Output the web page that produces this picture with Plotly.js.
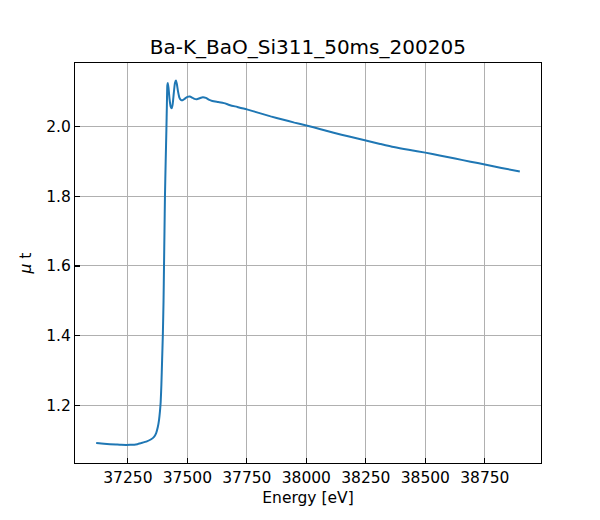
<!DOCTYPE html>
<html>
<head>
<meta charset="utf-8">
<script src="https://cdn.plot.ly/plotly-3.0.1.min.js"></script>
<style>
  body { margin: 0; background: #fff; }
  #chart { width: 600px; height: 520px; }
</style>
</head>
<body>
<div id="chart"></div>
<script>
// Ba K-edge scan
var energy = [37117, 37150, 37200, 37222, 37260, 37290, 37306, 37330, 37348, 37360,
  37369, 37376, 37381, 37385, 37388, 37391, 37394, 37397, 37400, 37402,
  37404, 37406, 37409, 37412, 37414, 37416, 37418, 37421, 37425, 37430,
  37434, 37438, 37443, 37448, 37452, 37456, 37461, 37467, 37473, 37480,
  37490, 37500, 37510, 37520, 37530, 37540, 37552, 37565, 37578, 37590,
  37605, 37630, 37654, 37680, 37710, 37750, 37800, 37850, 37900, 37950,
  38000, 38060, 38115, 38180, 38250, 38310, 38367, 38430, 38500, 38560,
  38625, 38690, 38750, 38820, 38897];
var mu = [1.092, 1.090, 1.088, 1.087, 1.087, 1.089, 1.092, 1.097, 1.103, 1.110,
  1.121, 1.138, 1.158, 1.184, 1.210, 1.260, 1.330, 1.400, 1.500, 1.600,
  1.700, 1.800, 1.900, 1.990, 2.060, 2.118, 2.125, 2.110, 2.080, 2.057,
  2.052, 2.062, 2.095, 2.125, 2.132, 2.122, 2.100, 2.082, 2.076, 2.075,
  2.080, 2.085, 2.086, 2.083, 2.079, 2.078, 2.081, 2.084, 2.082, 2.077,
  2.073, 2.070, 2.067, 2.061, 2.056, 2.049, 2.039, 2.029, 2.020, 2.011,
  2.003, 1.992, 1.982, 1.971, 1.960, 1.950, 1.941, 1.933, 1.925, 1.917,
  1.908, 1.899, 1.891, 1.881, 1.871];

var xTicks = [37250, 37500, 37750, 38000, 38250, 38500, 38750];
var yTicks = [1.2, 1.4, 1.6, 1.8, 2.0];

var font = 'DejaVu Sans, sans-serif';

var trace = {
  x: energy,
  y: mu,
  type: 'scatter',
  mode: 'lines',
  line: {color: '#1f77b4', width: 2, shape: 'spline', smoothing: 0.5},
  hoverinfo: 'skip'
};

var axisCommon = {
  showline: true,
  linecolor: '#000',
  linewidth: 1.1,
  mirror: true,
  ticks: 'inside',
  ticklen: 5,
  tickwidth: 1.1,
  tickcolor: '#000',
  showgrid: true,
  gridcolor: '#b0b0b0',
  gridwidth: 1,
  zeroline: false,
  tickfont: {family: font, size: 15.5, color: '#000'}
};

var layout = {
  width: 600,
  height: 520,
  margin: {l: 75, r: 59, t: 63, b: 57},
  paper_bgcolor: '#fff',
  plot_bgcolor: '#fff',
  showlegend: false,
  font: {family: font, color: '#000'},
  title: {
    text: 'Ba-K_BaO_Si311_50ms_200205',
    font: {family: font, size: 20, color: '#000'},
    x: 0.513,
    xanchor: 'center',
    yref: 'container',
    y: 1 - 47 / 520,
    yanchor: 'middle'
  },
  xaxis: Object.assign({}, axisCommon, {
    range: [37028, 38986],
    tickvals: xTicks,
    ticktext: xTicks.map(String),
    title: {text: 'Energy [eV]', font: {family: font, size: 15.5}, standoff: 6}
  }),
  yaxis: Object.assign({}, axisCommon, {
    range: [1.035, 2.182],
    tickvals: yTicks,
    ticktext: yTicks.map(function (v) { return v.toFixed(1); }),
    title: {text: '<i>μ</i> t', font: {family: font, size: 15.5}, standoff: 10}
  })
};

Plotly.newPlot('chart', [trace], layout, {staticPlot: true});
</script>
</body>
</html>
